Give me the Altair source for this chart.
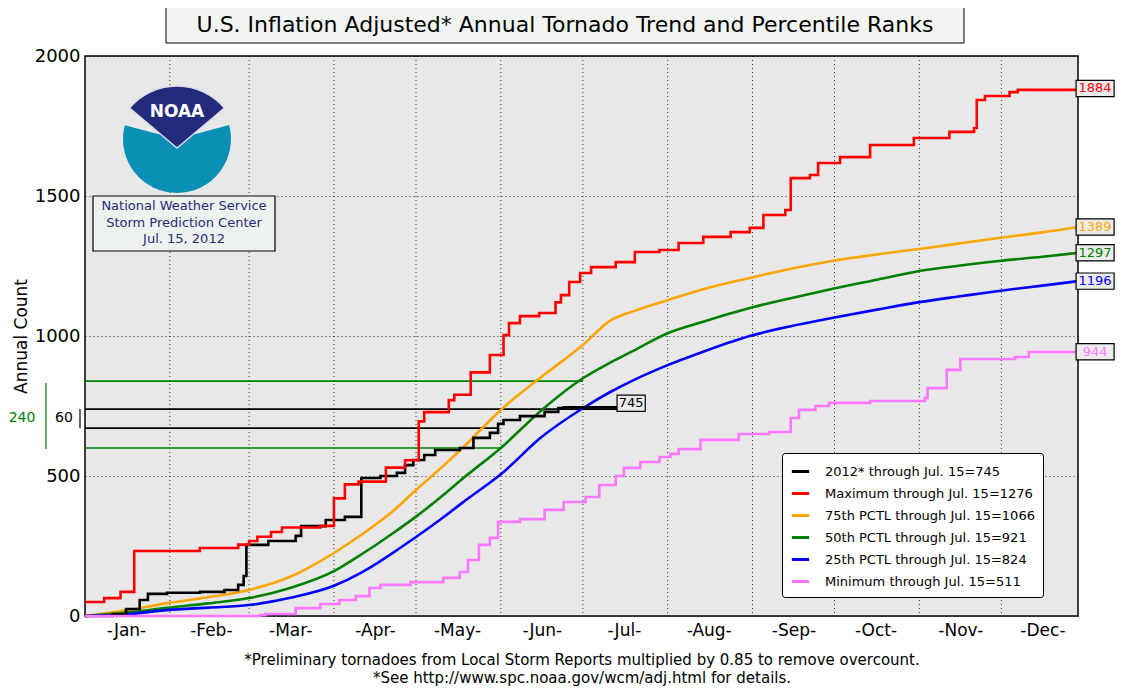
import altair as alt
import pandas as pd
import math

# day of year (leap year, 0 = Jan 1) and annual counts
max_days = [0, 7, 13, 18, 42, 56, 60, 63, 68, 72, 86, 91, 95, 100, 110, 117, 122, 124, 133, 135, 141, 148, 153,
            155, 159, 166, 172, 174, 177, 181, 185, 194, 201, 210, 217, 226, 236, 243, 248, 256, 258, 265, 268,
            276, 287, 303, 316, 325, 326, 329, 338, 341, 361, 363]
max_vals = [50, 64, 86, 232, 243, 255, 268, 283, 300, 316, 322, 420, 470, 480, 530, 556, 695, 728, 771, 790, 870,
            932, 1003, 1046, 1071, 1082, 1120, 1146, 1193, 1225, 1246, 1264, 1300, 1307, 1332, 1354, 1371, 1386,
            1432, 1450, 1564, 1575, 1618, 1639, 1682, 1707, 1729, 1743, 1843, 1857, 1871, 1879, 1879, 1884]

y2012_days = [0, 10, 15, 20, 23, 30, 42, 51, 56, 58, 59, 67, 77, 79, 88, 95, 101, 108, 114, 117, 120, 124, 128,
              137, 142, 148, 151, 153, 159, 168, 173, 175, 196]
y2012_vals = [0, 5, 25, 57, 79, 83, 86, 93, 111, 143, 254, 268, 286, 321, 343, 354, 493, 500, 511, 539, 557, 575,
              593, 600, 636, 654, 686, 700, 714, 729, 743, 745, 745]

min_days = [0, 64, 66, 77, 86, 93, 99, 104, 108, 119, 131, 137, 140, 144, 148, 151, 159, 168, 175, 183, 188, 194,
            197, 203, 210, 214, 217, 225, 239, 250, 258, 261, 267, 272, 287, 307, 308, 315, 320, 340, 345, 363]
min_vals = [0, 3, 7, 28, 43, 57, 71, 100, 111, 121, 136, 157, 200, 254, 279, 336, 346, 379, 407, 425, 468, 500,
            529, 550, 568, 579, 596, 629, 650, 657, 707, 736, 750, 761, 768, 779, 814, 879, 918, 925, 943, 944]

pct_days = [0, 15, 30, 45, 60, 75, 91, 101, 107, 112, 121, 132, 138, 152, 167, 182, 192, 200, 213, 226, 243, 258,
            273, 290, 305, 320, 334, 350, 363]
p75_vals = [0, 20, 46, 67, 93, 140, 225, 290, 332, 370, 450, 545, 600, 736, 855, 968, 1055, 1087, 1128, 1167, 1207,
            1240, 1268, 1292, 1311, 1331, 1350, 1370, 1389]
p50_vals = [0, 12, 29, 45, 64, 100, 160, 220, 258, 292, 355, 440, 490, 600, 736, 849, 905, 945, 1010, 1051, 1100,
            1135, 1168, 1202, 1232, 1252, 1268, 1283, 1297]
p25_vals = [0, 6, 21, 30, 39, 65, 108, 155, 190, 222, 282, 360, 405, 506, 640, 742, 800, 840, 896, 944, 1000,
            1035, 1064, 1095, 1121, 1142, 1161, 1180, 1196]

series = ["2012* through Jul. 15=745", "Maximum through Jul. 15=1276", "75th PCTL through Jul. 15=1066",
          "50th PCTL through Jul. 15=921", "25th PCTL through Jul. 15=824", "Minimum through Jul. 15=511"]
colors = ["black", "#ff0000", "#ffa500", "#008000", "#0000ff", "#ff77ff"]

month_starts = [31, 60, 91, 121, 152, 182, 213, 244, 274, 305, 335]
month_mids = [15, 46, 75, 106, 136, 167, 197, 228, 259, 289, 320, 350]
month_labels = ["-Jan-", "-Feb-", "-Mar-", "-Apr-", "-May-", "-Jun-", "-Jul-", "-Aug-", "-Sep-", "-Oct-", "-Nov-", "-Dec-"]

end_vals = [1884, 1389, 1297, 1196, 944]
end_colors = ["#ff0000", "#ffa500", "#008000", "#0000ff", "#ff77ff"]

# reference band lines: value, end day, colour
band_vals = [839, 600, 739, 671]
band_ends = [182, 152, 195, 151]
band_colors = ["#008000", "#008000", "black", "black"]

W, H = 993, 560


def frame(days, vals, name):
    return pd.DataFrame({"day": days, "count": vals, "series": name})


steps = pd.concat([frame(y2012_days, y2012_vals, series[0]), frame(max_days, max_vals, series[1]),
                   frame(min_days, min_vals, series[5])])
smooth = pd.concat([frame(pct_days, p75_vals, series[2]), frame(pct_days, p50_vals, series[3]),
                    frame(pct_days, p25_vals, series[4])])

xs = alt.Scale(domain=[0, 363], nice=False)
ys = alt.Scale(domain=[0, 2000], nice=False)
color = alt.Color("series:N", scale=alt.Scale(domain=series, range=colors), sort=series,
                  legend=alt.Legend(title=None, orient="none", legendX=697, legendY=397, fillColor="white",
                                    strokeColor="black", padding=8, cornerRadius=3, labelFontSize=13,
                                    labelFont="DejaVu Sans", labelLimit=0, symbolType="stroke",
                                    symbolStrokeWidth=3, symbolSize=300, rowPadding=4, labelOffset=14))

label_expr = "[" + ",".join("'%s'" % m for m in month_labels) + "][indexof([" + \
    ",".join(str(m) for m in month_mids) + "], datum.value)]"

x_enc = alt.X("day:Q", scale=xs, title=None,
              axis=alt.Axis(values=month_mids, labelExpr=label_expr, grid=False, ticks=False, domain=False,
                            labelFontSize=17, labelPadding=6, labelFont="DejaVu Sans", labelColor="black"))
y_enc = alt.Y("count:Q", scale=ys, title="Annual Count",
              axis=alt.Axis(values=[0, 500, 1000, 1500, 2000], format="d", grid=True, gridDash=[1, 3],
                            gridColor="black", gridOpacity=0.8, ticks=False, domain=False, labelFontSize=18,
                            labelPadding=5, titleFontSize=17, titleFontWeight="normal", titlePadding=4,
                            labelFont="DejaVu Sans", titleFont="DejaVu Sans", labelColor="black"))

vgrid = alt.Chart(pd.DataFrame({"day": month_starts})).mark_rule(
    color="black", strokeDash=[1, 3], opacity=0.8).encode(x=alt.X("day:Q", scale=xs))

bands = alt.Chart(pd.DataFrame({"y": band_vals, "start": [0] * 4, "end": band_ends, "c": band_colors})).mark_rule(
    strokeWidth=1.6).encode(x=alt.X("start:Q", scale=xs), x2="end:Q", y=alt.Y("y:Q", scale=ys),
                            color=alt.Color("c:N", scale=None))

step_lines = alt.Chart(steps).mark_line(interpolate="step-after", strokeWidth=2.6).encode(
    x=x_enc, y=y_enc, color=color, detail="series:N")
smooth_lines = alt.Chart(smooth).mark_line(interpolate="monotone", strokeWidth=2.6).encode(
    x=x_enc, y=y_enc, color=color, detail="series:N")

# value boxes on the right edge and at 2012's end
box_df = pd.DataFrame({"v": end_vals + [760], "t": [str(v) for v in end_vals] + ["745"],
                       "c": end_colors + ["black"],
                       "x": [362.3] * 5 + [194.5], "x2": [376.2] * 5 + [204.8]})
box_df["lo"] = box_df["v"] - 29
box_df["hi"] = box_df["v"] + 29
box_df["xm"] = (box_df["x"] + box_df["x2"]) / 2
boxes = alt.Chart(box_df).mark_rect(fill="#ececec", stroke="black", strokeWidth=1.2).encode(
    x=alt.X("x:Q", scale=xs), x2="x2:Q", y=alt.Y("lo:Q", scale=ys), y2="hi:Q")
box_text = alt.Chart(box_df).mark_text(fontSize=13, font="DejaVu Sans").encode(
    x=alt.X("xm:Q", scale=xs), y=alt.Y("v:Q", scale=ys), text="t:N", color=alt.Color("c:N", scale=None))

# title box
title_box = alt.Chart(pd.DataFrame({"a": [0]})).mark_rect(fill="#f2f4f2", stroke="black", strokeWidth=1).encode(
    x=alt.value(81), x2=alt.value(879), y=alt.value(-49), y2=alt.value(-13))
title_text = alt.Chart(pd.DataFrame({"t": ["U.S. Inflation Adjusted* Annual Tornado Trend and Percentile Ranks"]})).mark_text(
    fontSize=22, font="DejaVu Sans", color="black").encode(x=alt.value(480), y=alt.value(-31), text="t:N")

# footnote
foot = alt.Chart(pd.DataFrame({"t": ["*Preliminary tornadoes from Local Storm Reports multiplied by 0.85 to remove overcount.",
                                     "*See http://www.spc.noaa.gov/wcm/adj.html for details."],
                               "y": [604, 622]})).mark_text(fontSize=15, font="DejaVu Sans", color="black").encode(
    x=alt.value(497), y=alt.Y("y:Q", scale=None), text="t:N")

# NWS box
nws_box = alt.Chart(pd.DataFrame({"a": [0]})).mark_rect(fill="#eef2ee", stroke="black", strokeWidth=1.2).encode(
    x=alt.value(8), x2=alt.value(190), y=alt.value(140), y2=alt.value(195))
nws_text = alt.Chart(pd.DataFrame({"t": ["National Weather Service", "Storm Prediction Center", "Jul. 15, 2012"],
                                   "y": [150, 167, 183]})).mark_text(fontSize=13, font="DejaVu Sans",
                                                                    color="#252c7a").encode(
    x=alt.value(99), y=alt.Y("y:Q", scale=None), text="t:N")

# NOAA logo (approximate)
teal = alt.Chart(pd.DataFrame({"a": [0]})).mark_arc(color="#0a8fb5", radius=54, theta=1.31, theta2=4.97).encode(
    x=alt.value(92), y=alt.value(83))
navy = alt.Chart(pd.DataFrame({"a": [0]})).mark_arc(color="#232b7c", radius=62, theta=-0.87 + 2 * math.pi,
                                                    theta2=0.87 + 2 * math.pi, stroke="#d8dce8", strokeWidth=1.5).encode(
    x=alt.value(92), y=alt.value(92))
noaa = alt.Chart(pd.DataFrame({"t": ["NOAA"]})).mark_text(fontSize=17, fontWeight="bold", font="DejaVu Sans",
                                                         color="white").encode(x=alt.value(92), y=alt.value(56), text="t:N")

# side annotations
side_text = alt.Chart(pd.DataFrame({"t": ["240", "60"], "x": [-63, -21], "c": ["#008000", "black"]})).mark_text(
    fontSize=14, font="DejaVu Sans").encode(x=alt.X("x:Q", scale=None), y=alt.value(362), text="t:N",
                                            color=alt.Color("c:N", scale=None))
side_rules = alt.Chart(pd.DataFrame({"x": [-39, -5], "y": [327, 353], "y2": [393, 372], "c": ["#008000", "black"]})).mark_rule(
    strokeWidth=1.2).encode(x=alt.X("x:Q", scale=None), y=alt.Y("y:Q", scale=None), y2="y2:Q",
                            color=alt.Color("c:N", scale=None))

chart = alt.layer(vgrid, bands, smooth_lines, step_lines, boxes, box_text, title_box, title_text, foot,
                  nws_box, nws_text, teal, navy, noaa, side_text, side_rules).resolve_scale(color="independent").properties(
    width=W, height=H, autosize=alt.AutoSizeParams(type="none"),
    padding={"left": 77, "top": 48, "right": 40, "bottom": 70}, background="white"
).configure_view(fill="#e8e8e8", stroke="black", strokeWidth=1.5)

chart.save("out.html", embed_options={"renderer": "svg", "actions": False})
